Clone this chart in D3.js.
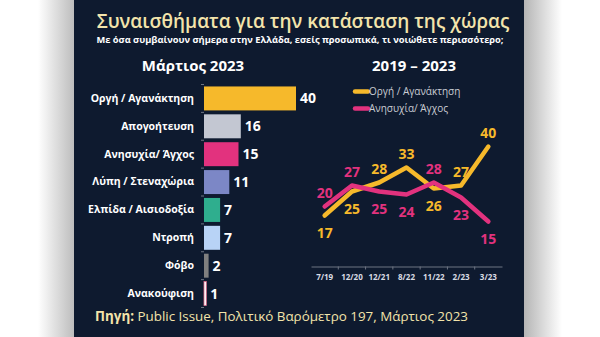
<!DOCTYPE html>
<html>
<head>
<meta charset="utf-8">
<script src="https://cdn.jsdelivr.net/npm/d3@7"></script>
<style>
  body { margin: 0; background: #fff; }
  svg { display: block; font-family: "Open Sans", "Noto Sans", sans-serif; }
</style>
</head>
<body>
<svg id="chart"></svg>
<script>
let width = 600
let height = 337

// bar chart data, March 2023
let categories = ["Οργή / Αγανάκτηση", "Απογοήτευση", "Ανησυχία/ Άγχος", "Λύπη / Στεναχώρια",
                  "Ελπίδα / Αισιοδοξία", "Ντροπή", "Φόβο", "Ανακούφιση"]
let barValues = [40, 16, 15, 11, 7, 7, 2, 1]
let barColors = ["#f6b92b", "#c3c7d2", "#e2327e", "#7c87c6", "#2fae8e", "#b8d3f6", "#7f7f7f", "#ffffff"]

// line chart data, 2019 - 2023
let periods = ["7/19", "12/20", "12/21", "8/22", "11/22", "2/23", "3/23"]
let angerValues = [17, 25, 28, 33, 26, 27, 40]
let anxietyValues = [20, 27, 25, 24, 28, 23, 15]
let seriesNames = ["Οργή / Αγανάκτηση", "Ανησυχία/ Άγχος"]
let seriesColors = ["#f6b92b", "#e2327e"]

let svg = d3.select("#chart")
  .attr("width", width)
  .attr("height", height)

// panel + side shadows
let defs = svg.append("defs")
let gl = defs.append("linearGradient").attr("id", "shadowL")
gl.append("stop").attr("offset", "0%").attr("stop-color", "#ffffff")
gl.append("stop").attr("offset", "100%").attr("stop-color", "#bdbdbd")
let gr = defs.append("linearGradient").attr("id", "shadowR")
gr.append("stop").attr("offset", "0%").attr("stop-color", "#b5b5b5")
gr.append("stop").attr("offset", "100%").attr("stop-color", "#ffffff")

svg.append("rect").attr("x", 38).attr("y", 0).attr("width", 36).attr("height", height).attr("fill", "url(#shadowL)")
svg.append("rect").attr("x", 524).attr("y", 0).attr("width", 38).attr("height", height).attr("fill", "url(#shadowR)")
svg.append("rect").attr("x", 74).attr("y", 0).attr("width", 450).attr("height", height).attr("fill", "#0e1a2f")

// titles
svg.append("text")
  .attr("x", 303).attr("y", 28)
  .attr("text-anchor", "middle")
  .attr("fill", "#f3e4ab")
  .style("font-size", "19px")
  .style("font-weight", "600")
  .text("Συναισθήματα για την κατάσταση της χώρας")

svg.append("text")
  .attr("x", 300).attr("y", 43)
  .attr("text-anchor", "middle")
  .attr("fill", "#ffffff")
  .style("font-size", "9.3px")
  .style("font-weight", "bold")
  .text("Με όσα συμβαίνουν σήμερα στην Ελλάδα, εσείς προσωπικά, τι νοιώθετε περισσότερο;")

svg.append("text")
  .attr("x", 193).attr("y", 71)
  .attr("text-anchor", "middle")
  .attr("fill", "#ffffff")
  .style("font-size", "15px")
  .style("font-weight", "bold")
  .text("Μάρτιος 2023")

svg.append("text")
  .attr("x", 414).attr("y", 71)
  .attr("text-anchor", "middle")
  .attr("fill", "#ffffff")
  .style("font-size", "15px")
  .style("font-weight", "bold")
  .text("2019 – 2023")

// ---------- bar chart ----------
let xBar = d3.scaleLinear().domain([0, 40]).range([204, 296])
let yBar = d3.scaleBand().domain(categories).range([84.5, 307.5]).paddingInner(0.14).paddingOuter(0.07)

let barAxis = d3.axisLeft(yBar).tickSize(0).tickPadding(10)
let gAxis = svg.append("g")
  .attr("transform", "translate(" + xBar(0) + ",0)")
  .call(barAxis)
gAxis.select(".domain").remove()
gAxis.selectAll("text")
  .attr("fill", "#ffffff")
  .style("font-size", "10.5px")
  .style("font-weight", "bold")
  .style("font-family", "'Open Sans', sans-serif")

// small boundary ticks
let step = yBar.step()
let bounds = categories.map((c) => yBar(c) - step * yBar.paddingInner() / 2)
bounds.push(yBar(categories[categories.length - 1]) + yBar.bandwidth() + step * yBar.paddingInner() / 2)
svg.selectAll(".btick")
  .data(bounds)
  .enter()
  .append("line")
  .attr("class", "btick")
  .attr("x1", xBar(0) - 3).attr("x2", xBar(0))
  .attr("y1", (d) => d).attr("y2", (d) => d)
  .attr("stroke", "#6d7483").attr("stroke-width", 1)

svg.selectAll(".bar")
  .data(barValues)
  .enter()
  .append("rect")
  .attr("class", "bar")
  .attr("x", xBar(0))
  .attr("y", (d, i) => yBar(categories[i]))
  .attr("width", (d) => xBar(d) - xBar(0))
  .attr("height", yBar.bandwidth())
  .attr("fill", (d, i) => barColors[i])
  .attr("stroke", (d, i) => i === 7 ? "#e06a8c" : "none")
  .attr("stroke-width", 0.8)

svg.selectAll(".barlabel")
  .data(barValues)
  .enter()
  .append("text")
  .attr("class", "barlabel")
  .attr("x", (d) => xBar(d) + 4)
  .attr("y", (d, i) => yBar(categories[i]) + yBar.bandwidth() / 2)
  .attr("dy", "0.36em")
  .attr("fill", "#ffffff")
  .style("font-size", "14px")
  .style("font-weight", "bold")
  .text((d) => d)

// ---------- line chart ----------
let xLine = d3.scaleBand().domain(periods).range([311, 502])
let yLine = d3.scaleLinear().domain([0, 40]).range([266.5, 146.5])

let lineAxis = d3.axisBottom(xLine).tickSize(0).tickPadding(8)
let gx = svg.append("g")
  .attr("transform", "translate(0," + yLine(0) + ")")
  .call(lineAxis)
gx.select(".domain").attr("stroke", "#6d7483")
gx.selectAll("text")
  .attr("fill", "#d9dce3")
  .style("font-size", "8px")
  .style("font-weight", "bold")
  .style("font-family", "'Open Sans', sans-serif")

let lineBounds = periods.slice(1).map((p) => xLine(p))
svg.selectAll(".ltick")
  .data(lineBounds)
  .enter()
  .append("line")
  .attr("class", "ltick")
  .attr("x1", (d) => d).attr("x2", (d) => d)
  .attr("y1", yLine(0)).attr("y2", yLine(0) + 3)
  .attr("stroke", "#6d7483")

let cx = (p) => xLine(p) + xLine.bandwidth() / 2
let line = d3.line()
  .x((d, i) => cx(periods[i]))
  .y((d) => yLine(d))

let series = [angerValues, anxietyValues]
series.forEach((vals, s) => {
  svg.append("path")
    .datum(vals)
    .attr("d", line)
    .attr("fill", "none")
    .attr("stroke", seriesColors[s])
    .attr("stroke-width", 4.5)
    .attr("stroke-linecap", "round")
    .attr("stroke-linejoin", "round")
})

series.forEach((vals, s) => {
  let other = series[1 - s]
  svg.selectAll(".pl" + s)
    .data(vals)
    .enter()
    .append("text")
    .attr("class", "pl" + s)
    .attr("x", (d, i) => cx(periods[i]))
    .attr("y", (d, i) => yLine(d) + (d >= other[i] ? -14 : 17))
    .attr("dy", "0.36em")
    .attr("text-anchor", "middle")
    .attr("fill", seriesColors[s])
    .style("font-size", "14px")
    .style("font-weight", "bold")
    .text((d) => d)
})

// legend
let legend = svg.selectAll(".leg")
  .data(seriesNames)
  .enter()
  .append("g")
  .attr("class", "leg")
  .attr("transform", (d, i) => "translate(355," + (91.5 + i * 17) + ")")
legend.append("line")
  .attr("x1", 0).attr("x2", 13)
  .attr("stroke", (d, i) => seriesColors[i])
  .attr("stroke-width", 4.5)
  .attr("stroke-linecap", "round")
legend.append("text")
  .attr("x", 14)
  .attr("dy", "0.36em")
  .attr("fill", "#c9ccd3")
  .style("font-size", "10px")
  .text((d) => d)

// source
let src = svg.append("text")
  .attr("x", 95).attr("y", 321)
  .attr("fill", "#f3e4ab")
  .style("font-size", "13.4px")
src.append("tspan").style("font-weight", "bold").text("Πηγή:")
src.append("tspan").text(" Public Issue, Πολιτικό Βαρόμετρο 197, Μάρτιος 2023")
</script>
</body>
</html>
